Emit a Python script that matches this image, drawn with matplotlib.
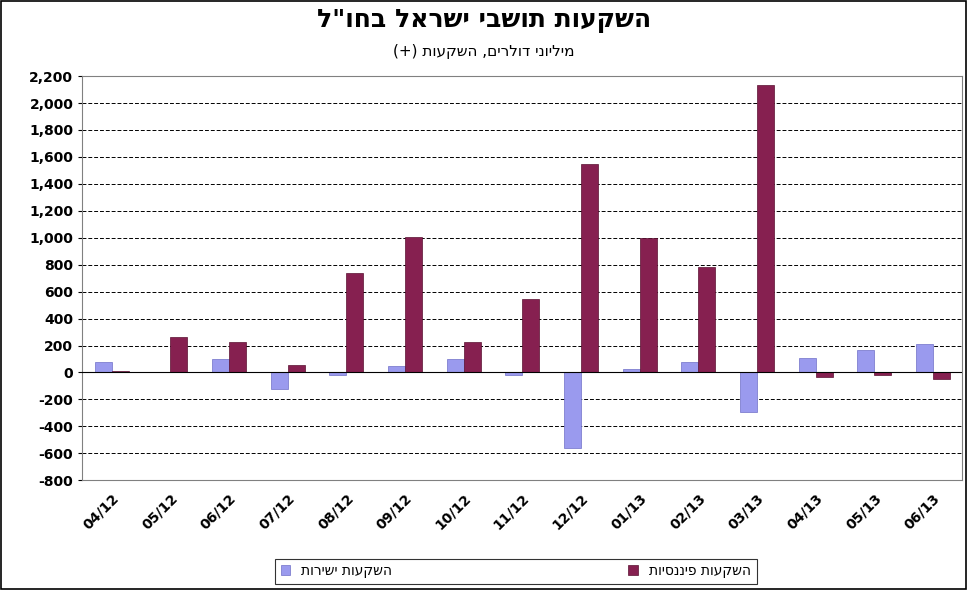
import numpy as np
import matplotlib
matplotlib.use("Agg")
import matplotlib.pyplot as plt
from matplotlib.patches import Rectangle

months = ["04/12", "05/12", "06/12", "07/12", "08/12", "09/12", "10/12", "11/12",
          "12/12", "01/13", "02/13", "03/13", "04/13", "05/13", "06/13"]
direct = [80, 5, 100, -125, -15, 45, 100, -20, -560, 25, 75, -295, 105, 170, 210]
financial = [10, 265, 230, 55, 740, 1005, 230, 545, 1545, 995, 785, 2135, -30, -20, -45]


def vis(s):
    # matplotlib has no bidi: flip Hebrew to visual order
    return s[::-1].translate(str.maketrans("()", ")("))


fig = plt.figure(figsize=(9.68, 5.9), dpi=100)
fig.patches.append(Rectangle((0.001, 0.001), 0.997, 0.997, transform=fig.transFigure,
                             fill=False, ec="black", lw=1.2))
ax = fig.add_axes([0.085, 0.186, 0.909, 0.685])

x = np.arange(len(months))
w = 0.29
ax.bar(x - 0.145, direct, w, color="#9A9AEE", edgecolor="#7070C8", lw=0.5,
       label=vis("השקעות ישירות"), zorder=3)
ax.bar(x + 0.145, financial, w, color="#862050", edgecolor="#5A1030", lw=0.5,
       label=vis("השקעות פיננסיות"), zorder=3)

ax.set_xlim(-0.5, len(months) - 0.5)
ax.set_ylim(-800, 2200)
ax.set_yticks(range(-800, 2201, 200))
ax.set_yticklabels([f"{v:,}" for v in range(-800, 2201, 200)], fontweight="bold", fontsize=10)
ax.set_xticks(x)
ax.set_xticklabels(months, rotation=45, ha="right", rotation_mode="anchor",
                   fontweight="bold", fontsize=10)
ax.tick_params(axis="x", length=0, pad=8)
ax.tick_params(axis="y", length=3)
ax.yaxis.grid(True, ls=(0, (4, 2)), color="black", lw=0.7, zorder=0)
ax.axhline(0, color="black", lw=0.8, zorder=4)
for s in ax.spines.values():
    s.set_color("#808080")

fig.text(0.5, 0.965, vis('השקעות תושבי ישראל בחו"ל'), ha="center", va="center",
         fontsize=18, fontweight="bold")
fig.text(0.5, 0.912, vis("מיליוני דולרים, השקעות (+)"), ha="center", va="center", fontsize=11)

leg = fig.legend(loc="center", bbox_to_anchor=(0.533, 0.032), ncol=2, frameon=True,
                 fancybox=False, edgecolor="black", fontsize=10, columnspacing=17,
                 handlelength=0.7, handleheight=0.7, borderpad=0.4, borderaxespad=0)
leg.get_frame().set_linewidth(0.8)
leg._legend_box.align = "center"

fig.savefig("out.png", dpi=100)
